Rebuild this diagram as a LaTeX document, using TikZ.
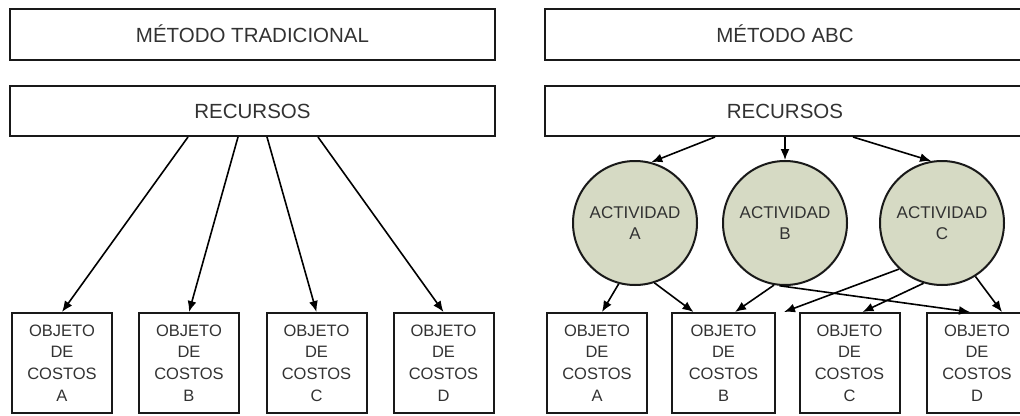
\documentclass[tikz,border=0pt]{standalone}
\usepackage{fontspec}
\setmainfont{Liberation Sans}
\usetikzlibrary{arrows.meta}
\definecolor{actfill}{RGB}{214,218,196}
\definecolor{txtgray}{RGB}{50,50,50}

\begin{document}
\begin{tikzpicture}[x=1pt,y=-1pt,
    box/.style={draw=black!90,line width=2pt,inner sep=0pt,text=txtgray},
    titlebox/.style={box,minimum width=485pt,minimum height=51pt,font=\fontsize{20.5}{24}\selectfont},
    objbox/.style={box,minimum width=100pt,minimum height=100pt,align=center,font=\fontsize{16.5}{21.7}\selectfont},
    actnode/.style={circle,draw=black!90,line width=2pt,fill=actfill,minimum size=124pt,inner sep=0pt,align=center,text=txtgray,font=\fontsize{17}{21.7}\selectfont},
    arr/.style={-{Latex[length=11pt,width=9pt]},line width=1.6pt,black}]
            \path[use as bounding box,clip] (0,0) rectangle (1020,415);

            % metodo tradicional
            \node[titlebox] (tradTitle) at (252.5,34) {MÉTODO TRADICIONAL};
            \node[titlebox,minimum height=50pt] (tradRec) at (252.5,111) {RECURSOS};

            \node[objbox] (tradA) at (62,363) {OBJETO\\DE\\COSTOS\\A};
            \node[objbox] (tradB) at (189,363) {OBJETO\\DE\\COSTOS\\B};
            \node[objbox] (tradC) at (316.5,363) {OBJETO\\DE\\COSTOS\\C};
            \node[objbox] (tradD) at (443.5,363) {OBJETO\\DE\\COSTOS\\D};

            \draw[arr] ([xshift=-64.5pt]tradRec.south) to (tradA.north);
            \draw[arr] ([xshift=-14.5pt]tradRec.south) to (tradB.north);
            \draw[arr] ([xshift=14.5pt]tradRec.south) to (tradC.north);
            \draw[arr] ([xshift=65.5pt]tradRec.south) to (tradD.north);

            % metodo ABC
            \node[titlebox,minimum width=480pt] (abcTitle) at (785,34) {MÉTODO ABC};
            \node[titlebox,minimum width=480pt,minimum height=50pt] (abcRec) at (785,111) {RECURSOS};

            \node[actnode] (actA) at (635,223) {ACTIVIDAD\\A};
            \node[actnode] (actB) at (785,223) {ACTIVIDAD\\B};
            \node[actnode] (actC) at (942,223) {ACTIVIDAD\\C};

            \node[objbox] (abcA) at (597,363) {OBJETO\\DE\\COSTOS\\A};
            \node[objbox,minimum width=103pt] (abcB) at (723.5,363) {OBJETO\\DE\\COSTOS\\B};
            \node[objbox] (abcC) at (849.5,363) {OBJETO\\DE\\COSTOS\\C};
            \node[objbox] (abcD) at (977,363) {OBJETO\\DE\\COSTOS\\D};

            \draw[arr] ([xshift=-70pt]abcRec.south) to (actA.75);
            \draw[arr] (abcRec.south) to (actB.north);
            \draw[arr] ([xshift=68pt]abcRec.south) to (actC.100);

            \draw[arr] (actA.-105) to ([xshift=5pt]abcA.north);
            \draw[arr] (actA.-72) to ([xshift=-30pt]abcB.north);
            \draw[arr] (actB.-100) to ([xshift=11.5pt]abcB.north);
            \draw[arr] (actB.-95) to ([xshift=-7pt]abcD.north);
            \draw[arr] (actC.-133) to ([xshift=8pt]abcB.north east);
            \draw[arr] (actC.-107) to ([xshift=13pt]abcC.north);
            \draw[arr] (actC.-58) to ([xshift=25pt]abcD.north);
        \end{tikzpicture}
\end{document}
